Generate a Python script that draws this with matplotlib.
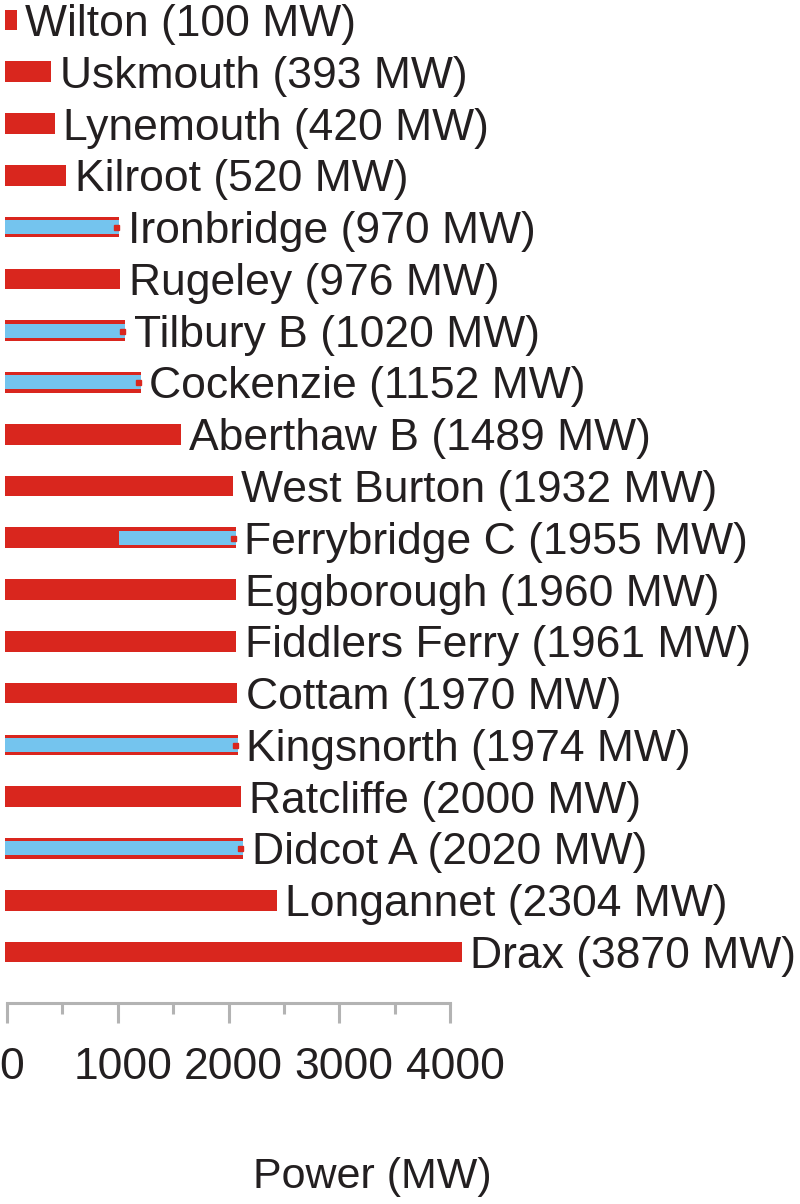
import matplotlib
matplotlib.use('Agg')
import matplotlib.pyplot as plt
from matplotlib import transforms
from matplotlib.ticker import MultipleLocator

plt.rcParams['font.family'] = ['Liberation Sans', 'DejaVu Sans']

# Power stations, top to bottom
stations = ['Wilton', 'Uskmouth', 'Lynemouth', 'Kilroot', 'Ironbridge', 'Rugeley',
            'Tilbury B', 'Cockenzie', 'Aberthaw B', 'West Burton', 'Ferrybridge C',
            'Eggborough', 'Fiddlers Ferry', 'Cottam', 'Kingsnorth', 'Ratcliffe',
            'Didcot A', 'Longannet', 'Drax']
capacity = [100, 393, 420, 520, 970, 976, 1020, 1152, 1489, 1932, 1955,
            1960, 1961, 1970, 1974, 2000, 2020, 2304, 3870]

# blue overlay: station, start and end in MW
opted_name = ['Ironbridge', 'Tilbury B', 'Cockenzie', 'Ferrybridge C', 'Kingsnorth', 'Didcot A']
opted_start = [0, 0, 0, 970, 0, 0]
opted_end = [970, 1020, 1152, 1955, 1974, 2020]

red = '#d9261e'
blue = '#74c4ee'
ink = '#231f20'

W, H = 800, 1204
fig = plt.figure(figsize=(W / 100, H / 100), dpi=100)

# main bar area
ax = fig.add_axes([5 / W, 1 - 985 / H, 795 / W, 985 / H])
ypos = list(range(len(stations)))
ax.barh(ypos, capacity, height=0.40, color=red, edgecolor='none')

dot = transforms.offset_copy(ax.transData, fig=fig, x=-3, y=0, units='dots')
for name, s, e in zip(opted_name, opted_start, opted_end):
    i = stations.index(name)
    ax.barh(i, e - s, left=s, height=0.27, color=blue, edgecolor='none')
    ax.plot([e], [i], marker='s', markersize=3.6, color=red, transform=dot,
            clip_on=False)

for i, (name, v) in enumerate(zip(stations, capacity)):
    ax.annotate(f'{name} ({v} MW)', xy=(v, i), xytext=(6, -11.5),
                textcoords='offset points', va='baseline', ha='left',
                fontsize=32, color=ink, annotation_clip=False)

ax.set_xlim(0, 795 / 0.118)
ax.set_ylim(18 + 33 / 51.8, -20 / 51.8)
ax.axis('off')

# scale bar at the bottom
ax2 = fig.add_axes([7 / W, 1 - 1003 / H, 443 / W, 1e-4])
ax2.set_xlim(0, 4000)
for sp in ['top', 'left', 'right']:
    ax2.spines[sp].set_visible(False)
ax2.spines['bottom'].set_color('#b3b3b3')
ax2.spines['bottom'].set_linewidth(2.2)
ax2.set_yticks([])
ax2.xaxis.set_major_locator(MultipleLocator(1000))
ax2.xaxis.set_minor_locator(MultipleLocator(500))
ax2.tick_params(axis='x', which='major', length=14.4, width=2.2, color='#b3b3b3',
                pad=17, labelsize=32, labelcolor=ink)
ax2.tick_params(axis='x', which='minor', length=8, width=2.2, color='#b3b3b3')
ax2.patch.set_visible(False)

# labels sit a little right of their ticks
shift = transforms.ScaledTranslation(0.05, 0, fig.dpi_scale_trans)
for lab in ax2.get_xticklabels():
    lab.set_transform(lab.get_transform() + shift)

fig.text(372 / W, 1 - 1177 / H, 'Power (MW)', ha='center', va='center',
         fontsize=31, color=ink)

fig.savefig('out.png', dpi=100)
